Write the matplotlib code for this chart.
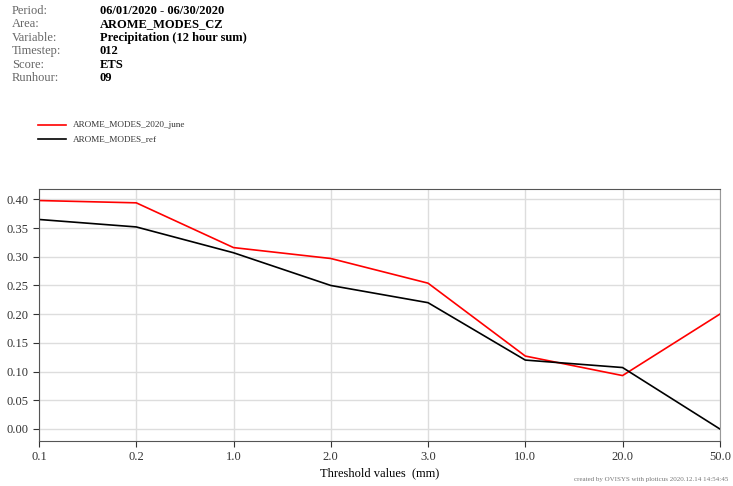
import matplotlib.pyplot as plt

thresholds = ["0.1", "0.2", "1.0", "2.0", "3.0", "10.0", "20.0", "50.0"]
ets_june = [0.398, 0.394, 0.316, 0.297, 0.254, 0.127, 0.093, 0.200]
ets_ref = [0.365, 0.352, 0.307, 0.250, 0.220, 0.120, 0.107, 0.000]

header_keys = ["Period:", "Area:", "Variable:", "Timestep:", "Score:", "Runhour:"]
header_vals = ["06/01/2020 - 06/30/2020", "AROME_MODES_CZ",
               "Precipitation (12 hour sum)", "012", "ETS", "09"]

plt.rcParams["font.family"] = ["Liberation Serif", "DejaVu Serif"]

fig = plt.figure(figsize=(7.33, 4.86), dpi=100)
ax = fig.add_axes([0.0532, 0.0926, 0.9288, 0.5184])

x = list(range(len(thresholds)))
ax.plot(x, ets_june, color="#ff0000", lw=1.2)
ax.plot(x, ets_ref, color="black", lw=1.2)

ax.set_xlim(0, len(thresholds) - 1)
ax.set_ylim(-0.021, 0.418)
ax.set_xticks(x)
ax.set_xticklabels(thresholds)
yt = [0.0, 0.05, 0.10, 0.15, 0.20, 0.25, 0.30, 0.35, 0.40]
ax.set_yticks(yt)
ax.set_yticklabels([f"{v:.2f}" for v in yt])
ax.grid(True, color="#dddddd", lw=1.0)
ax.tick_params(labelsize=9, colors="#333333", length=4, width=0.8)
for s in ["top", "left", "bottom"]:
    ax.spines[s].set_color("#555555")
ax.spines["right"].set_color("#999999")
ax.set_xlabel("Threshold values  (mm)", fontsize=9, labelpad=3)

# header block
for i, (k, v) in enumerate(zip(header_keys, header_vals)):
    y = 1 - (11 + i * 13.4) / 486
    fig.text(12 / 733, y, k, fontsize=9, color="#666666", va="center")
    fig.text(100 / 733, y, v, fontsize=9, fontweight="bold", va="center")

# legend
for y, lab, c in [(125, "AROME_MODES_2020_june", "#ff0000"),
                  (139, "AROME_MODES_ref", "black")]:
    fig.add_artist(plt.Line2D([38 / 733, 66 / 733], [1 - y / 486] * 2,
                              color=c, lw=1.2))
    fig.text(73 / 733, 1 - y / 486, lab, fontsize=6.6, color="#333333", va="center")

fig.text(728 / 733, 1 - 479 / 486,
         "created by OVISYS with ploticus 2020.12.14 14:54:45",
         fontsize=5, color="#777777", ha="right", va="center")

fig.savefig("out.png", dpi=100)
